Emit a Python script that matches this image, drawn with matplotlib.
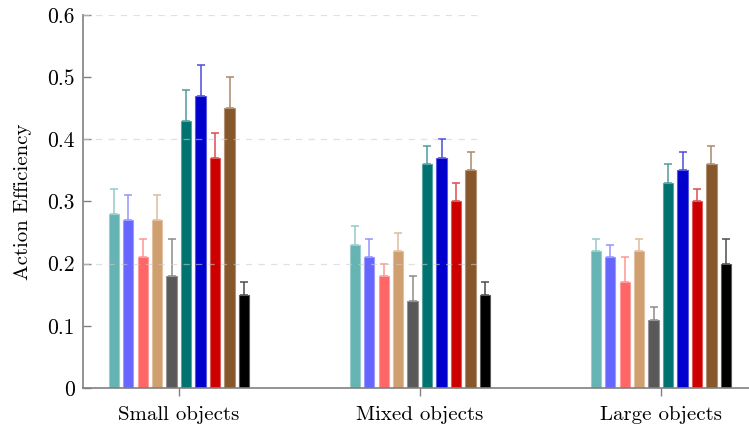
import numpy as np
import matplotlib.pyplot as plt
from matplotlib.colors import to_rgb

plt.rcParams['font.family'] = ['cmr10', 'DejaVu Serif']
plt.rcParams['mathtext.fontset'] = 'cm'
plt.rcParams['axes.formatter.use_mathtext'] = True

groups = ["Small objects", "Mixed objects", "Large objects"]
colors = ["#66b3b3", "#6666ff", "#ff6666", "#cf9f6f", "#595959",
          "#007370", "#0000cc", "#cc0000", "#85572b", "#000000"]

# one list per bar colour, values for (small, mixed, large)
s1 = [0.28, 0.23, 0.22]
s2 = [0.27, 0.21, 0.21]
s3 = [0.21, 0.18, 0.17]
s4 = [0.27, 0.22, 0.22]
s5 = [0.18, 0.14, 0.11]
s6 = [0.43, 0.36, 0.33]
s7 = [0.47, 0.37, 0.35]
s8 = [0.37, 0.30, 0.30]
s9 = [0.45, 0.35, 0.36]
s10 = [0.15, 0.15, 0.20]
series = [s1, s2, s3, s4, s5, s6, s7, s8, s9, s10]

# upper error values
e1 = [0.04, 0.03, 0.02]
e2 = [0.04, 0.03, 0.02]
e3 = [0.03, 0.02, 0.04]
e4 = [0.04, 0.03, 0.02]
e5 = [0.06, 0.04, 0.02]
e6 = [0.05, 0.03, 0.03]
e7 = [0.05, 0.03, 0.03]
e8 = [0.04, 0.03, 0.02]
e9 = [0.05, 0.03, 0.03]
e10 = [0.02, 0.02, 0.04]
errors = [e1, e2, e3, e4, e5, e6, e7, e8, e9, e10]


def lighten(c, amt):
    r = np.array(to_rgb(c))
    return tuple(r + (1 - r) * amt)


fig = plt.figure(figsize=(7.49, 4.28), dpi=100)
ax = fig.add_axes([0.1108, 0.0935, 0.889, 0.8715])

x = np.arange(len(groups))
step = 0.06
width = 0.043
for i, (vals, err, c) in enumerate(zip(series, errors, colors)):
    pos = x + (i - 4.5) * step
    ax.bar(pos, vals, width, color=c, edgecolor=lighten(c, 0.35),
           linewidth=0.8, zorder=2)
    ax.errorbar(pos, vals, yerr=[np.zeros(len(err)), err], fmt='none',
                ecolor=lighten(c, 0.3), elinewidth=1.1, capsize=2.8,
                capthick=1.1, zorder=1)

# dashed grid (stops part way along the axis in the original)
for yv in [0.2, 0.4, 0.6]:
    ax.axhline(yv, xmin=0, xmax=0.592, color='#cccccc', linestyle=(0, (5, 5)),
               linewidth=0.9, alpha=0.6, zorder=3)

ax.set_xlim(-0.398, 2.365)
ax.set_ylim(0, 0.6)
ax.set_xticks(x)
ax.set_xticklabels(groups, fontsize=15)
ax.set_yticks([0, 0.1, 0.2, 0.3, 0.4, 0.5, 0.6])
ax.set_yticklabels(["0", "0.1", "0.2", "0.3", "0.4", "0.5", "0.6"], fontsize=15.5)
ax.tick_params(axis='y', direction='in', length=6, color='#808080', width=1, pad=6)
ax.tick_params(axis='x', direction='out', length=6, color='#808080', width=1, pad=7)
ax.set_ylabel("Action Efficiency", fontsize=15, labelpad=11)

for side in ['top', 'right']:
    ax.spines[side].set_visible(False)
for side in ['left', 'bottom']:
    ax.spines[side].set_color('#808080')
    ax.spines[side].set_linewidth(1.2)

fig.savefig('out.png', dpi=100)
